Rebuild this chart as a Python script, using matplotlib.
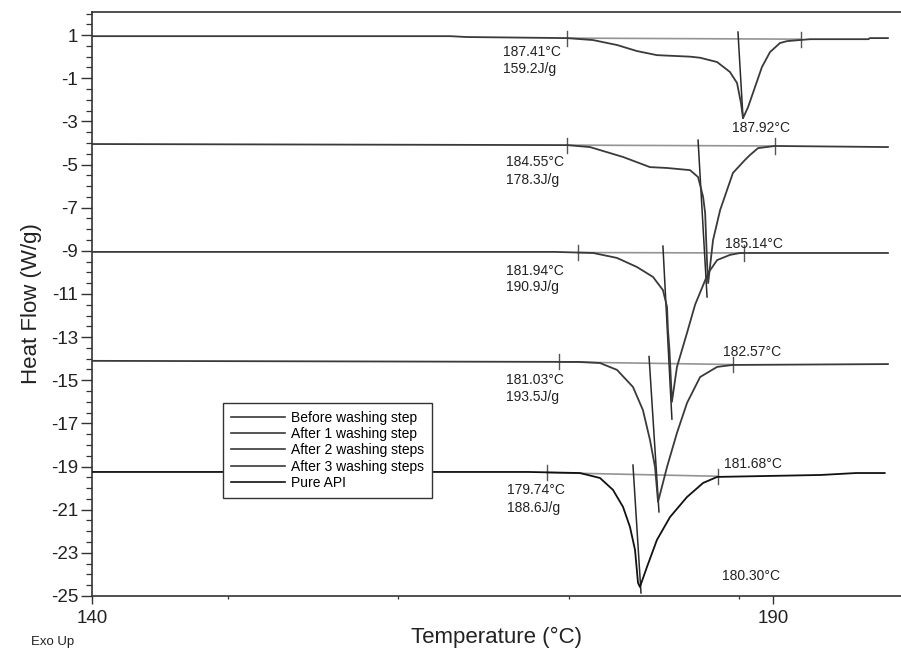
import matplotlib
matplotlib.use("Agg")
import matplotlib.pyplot as plt
from matplotlib.ticker import MultipleLocator

plt.rcParams['font.family'] = ['Liberation Sans', 'DejaVu Sans']
plt.rcParams['axes.unicode_minus'] = False

# DSC curves, top to bottom (temperature in °C, heat flow in W/g)
labels = ['Before washing step', 'After 1 washing step', 'After 2 washing steps',
          'After 3 washing steps', 'Pure API']

t_before = [140, 166.3, 167.5, 174.87, 176.78, 178.55, 180.01, 181.48, 183.91, 184.65,
            185.90, 186.84, 187.36, 187.65, 187.80, 188.17, 188.68, 189.19, 189.78,
            190.51, 191.03, 192.72, 197.0, 197.12, 198.44]
hf_before = [0.95, 0.95, 0.91, 0.86, 0.77, 0.54, 0.26, 0.07, 0.0, -0.05,
             -0.25, -0.71, -1.22, -2.15, -2.85, -2.34, -1.41, -0.48, 0.21,
             0.63, 0.72, 0.81, 0.81, 0.86, 0.86]

t_wash1 = [140, 174.87, 176.56, 178.99, 180.97, 182.22, 183.91, 184.50, 184.87, 185.02,
           185.16, 185.24, 185.60, 186.12, 187.06, 187.94, 188.31, 188.90, 190.15, 198.44]
hf_wash1 = [-4.05, -4.1, -4.19, -4.65, -5.12, -5.16, -5.26, -5.58, -6.5, -7.25,
            -9.57, -10.5, -8.5, -7.11, -5.39, -4.79, -4.56, -4.24, -4.14, -4.19]

t_wash2 = [140, 174.0, 176.8, 178.55, 180.01, 181.19, 181.92, 182.22, 182.29, 182.40,
           182.58, 182.95, 183.69, 184.28, 185.24, 185.90, 186.84, 187.58, 198.44]
hf_wash2 = [-9.05, -9.05, -9.1, -9.33, -9.75, -10.21, -10.82, -11.6, -12.67, -13.6,
            -16.0, -14.38, -12.8, -11.5, -10.03, -9.43, -9.19, -9.1, -9.1]

t_wash3 = [140, 175.8, 177.30, 178.55, 179.72, 180.45, 180.97, 181.34, 181.56, 182.22,
           182.95, 183.69, 184.65, 185.90, 187.06, 198.44]
hf_wash3 = [-14.1, -14.15, -14.2, -14.52, -15.31, -16.38, -17.77, -19.02, -20.64, -19.02,
            -17.44, -16.05, -14.85, -14.38, -14.29, -14.25]

t_api = [140, 172.0, 175.83, 177.30, 178.25, 178.99, 179.50, 179.87, 180.09, 180.23,
         180.75, 181.48, 182.44, 183.69, 184.87, 185.90, 193.5, 196.1, 198.2]
hf_api = [-19.25, -19.25, -19.30, -19.53, -20.08, -20.87, -21.80, -22.86, -24.39, -24.58,
          -23.65, -22.40, -21.34, -20.41, -19.76, -19.48, -19.39, -19.30, -19.30]

curves_t = [t_before, t_wash1, t_wash2, t_wash3, t_api]
curves_hf = [hf_before, hf_wash1, hf_wash2, hf_wash3, hf_api]
curve_colors = ['#3a3a3a', '#3a3a3a', '#3a3a3a', '#3a3a3a', '#111111']

# onset tangent lines: (t0, hf0, t1, hf1)
tangents = [(187.43, 1.14, 187.80, -2.85),
            (184.50, -3.87, 185.16, -11.14),
            (181.92, -8.78, 182.58, -16.8),
            (180.90, -13.9, 181.63, -21.1),
            (179.72, -18.93, 180.31, -24.86)]

# integration limits: (t_left, hf_left, t_right, hf_right)
limits = [(174.87, 0.86, 192.06, 0.81),
          (174.87, -4.1, 190.15, -4.14),
          (175.68, -9.08, 187.87, -9.1),
          (174.29, -14.15, 187.06, -14.27),
          (173.41, -19.28, 185.96, -19.45)]

onset_text = ['187.41°C', '184.55°C', '181.94°C', '181.03°C', '179.74°C']
enthalpy_text = ['159.2J/g', '178.3J/g', '190.9J/g', '193.5J/g', '188.6J/g']
onset_y = [0.21, -4.88, -9.94, -14.99, -20.08]
enthalpy_y = [-0.58, -5.72, -10.68, -15.77, -20.92]
onset_x = [170.2, 170.4, 170.4, 170.4, 170.5]

peak_text = ['187.92°C', '185.14°C', '182.57°C', '181.68°C', '180.30°C']
peak_x = [187.0, 186.48, 186.33, 186.4, 186.26]
peak_y = [-3.31, -8.68, -13.69, -18.88, -24.07]

fig = plt.figure(figsize=(9.01, 6.51), dpi=100)
ax = fig.add_axes([92 / 901, 55 / 651, 809 / 901, 584 / 651])

# gray integration baselines with end ticks
for tl, hl, tr, hr in limits:
    ax.plot([tl, tr], [hl, hr], color='#949494', lw=1.2, zorder=1)
    ax.plot([tl, tl], [hl - 0.35, hl + 0.35], color='#555555', lw=1.0, zorder=1)
    ax.plot([tr, tr], [hr - 0.35, hr + 0.35], color='#555555', lw=1.0, zorder=1)

for t, hf, c, lab in zip(curves_t, curves_hf, curve_colors, labels):
    ax.plot(t, hf, color=c, lw=1.3, label=lab, zorder=3)

for t0, h0, t1, h1 in tangents:
    ax.plot([t0, t1], [h0, h1], color='#2a2a2a', lw=1.1, zorder=2)

for i in range(5):
    ax.text(onset_x[i], onset_y[i], onset_text[i], fontsize=10, color='#222222',
            ha='left', va='center')
    ax.text(onset_x[i], enthalpy_y[i], enthalpy_text[i], fontsize=10, color='#222222',
            ha='left', va='center')
    ax.text(peak_x[i], peak_y[i], peak_text[i], fontsize=10, color='#222222',
            ha='left', va='center')

ax.set_xlim(140, 199.4)
ax.set_ylim(-25, 2.07)
ax.set_xticks([140, 190])
ax.xaxis.set_minor_locator(MultipleLocator(12.5))
ax.set_yticks(list(range(1, -26, -2)))
ax.yaxis.set_minor_locator(MultipleLocator(0.5))
ax.tick_params(axis='both', which='major', labelsize=13.5, colors='#333333',
               labelcolor='#222222')
ax.tick_params(axis='y', which='major', length=8, width=1.0, pad=2)
ax.tick_params(axis='y', which='minor', length=4, width=0.9, colors='#333333')
ax.tick_params(axis='x', which='major', length=6, width=1.0, pad=4)
ax.tick_params(axis='x', which='minor', length=2.5, width=0.9, colors='#333333')

for side in ['left', 'bottom', 'top']:
    ax.spines[side].set_color('#333333')
    ax.spines[side].set_linewidth(1.2)
ax.spines['right'].set_visible(False)

ax.set_xlabel('Temperature (°C)', fontsize=16, color='#222222', labelpad=0)
ax.set_ylabel('Heat Flow (W/g)', fontsize=16, color='#222222', labelpad=6)

leg = ax.legend(loc='upper left', bbox_to_anchor=(0.162, 0.3305), fontsize=10,
                handlelength=3.9, handletextpad=0.45, labelspacing=0.17,
                borderpad=0.55, borderaxespad=0, fancybox=False, framealpha=1)
leg.get_frame().set_edgecolor('#333333')
leg.get_frame().set_linewidth(1.0)
for line in leg.get_lines():
    line.set_linewidth(1.2)

fig.text(31 / 901, 1 - 642 / 651, 'Exo Up', fontsize=9.5, color='#222222',
         ha='left', va='center')

fig.savefig('out.png', dpi=100)
